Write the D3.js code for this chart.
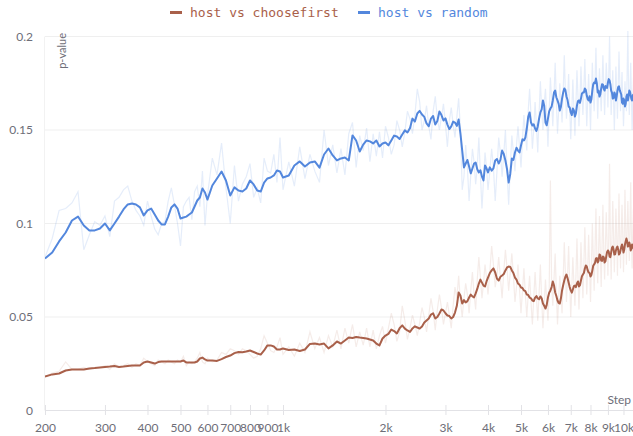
<!DOCTYPE html>
<html><head><meta charset="utf-8">
<script src="https://cdn.jsdelivr.net/npm/d3@7"></script>
<style>
html,body{margin:0;padding:0;background:#fff;}
svg{display:block;}
</style></head>
<body>
<svg id="chart" width="633" height="436"></svg>
<script>
const steps = [200,210,220,230,240,250,260,270,280,290,300,310,320,330,340,350,360,370,380,390,400,410,420,430,440,450,460,470,480,490,500,510,520,530,540,550,560,570,580,590,600,
620,640,660,680,700,720,740,760,780,800,820,840,860,880,900,920,940,960,980,1000,
1040,1080,1120,1160,1200,1240,1280,1320,1360,1400,1440,1480,1520,1560,1600,1640,1680,1720,1760,1800,1840,1880,1920,1960,2000,
2080,2160,2240,2320,2400,2480,2560,2640,2720,2800,2880,2960,3040,3120,3200,3280,3360,3440,3520,3600,3680,3760,3840,3920,4000,
4100,4200,4300,4400,4500,4600,4700,4800,4900,5000,5100,5200,5300,5400,5500,5600,5700,5800,5900,6000,
6100,6200,6300,6400,6500,6600,6700,6800,6900,7000,7100,7200,7300,7400,7500,7600,7700,7800,7900,8000,
8100,8200,8300,8400,8500,8600,8700,8800,8900,9000,9100,9200,9300,9400,9500,9600,9700,9800,9900,10000,
10100,10200,10300,10400,10500,10600,10700];

const randomSmooth = [0.0813,0.0845,0.0904,0.0952,0.1016,0.1037,0.0989,0.0963,0.0963,0.0973,
0.1000,0.0963,0.1000,0.1037,0.1075,0.1102,0.1107,0.1102,0.1086,0.1043,
0.1070,0.1080,0.1048,0.1016,0.0995,0.0995,0.1037,0.1086,0.1102,0.1080,
0.1027,0.1032,0.1037,0.1048,0.1059,0.1091,0.1123,0.1139,0.1187,0.1166,0.1128,
0.1203,0.1241,0.1278,0.1230,0.1150,0.1193,0.1176,0.1171,0.1187,0.1230,0.1209,0.1176,0.1171,0.1219,0.1241,0.1246,0.1257,0.1283,0.1278,0.1246,
0.1257,0.1310,0.1332,0.1305,0.1326,0.1332,0.1299,0.1369,0.1401,0.1364,0.1337,0.1348,0.1353,0.1337,0.1471,0.1444,0.1385,0.1422,0.1444,0.1439,0.1428,0.1444,0.1412,0.1428,0.1433,
0.1444,0.1465,0.1476,0.1487,0.1561,0.1588,0.1583,0.1535,0.1561,0.1529,0.1599,0.1551,0.1529,0.1519,0.1540,0.1556,0.1390,0.1321,0.1305,0.1294,0.1326,0.1273,0.1251,0.1310,0.1273,
0.1283,0.1337,0.1321,0.1390,0.1337,0.1219,0.1348,0.1380,0.1390,0.1417,
0.1444,0.1508,0.1594,0.1524,0.1508,0.1519,0.1594,0.1658,0.1540,0.1561,
0.1615,0.1658,0.1711,0.1658,0.1604,0.1668,0.1722,0.1679,0.1626,0.1594,
0.1615,0.1572,0.1631,0.1658,0.1668,0.1701,0.1722,0.1684,0.1658,0.1647,
0.1711,0.1754,0.1775,0.1701,0.1679,0.1722,0.1743,0.1711,0.1733,0.1754,
0.1765,0.1711,0.1668,0.1701,0.1658,0.1711,0.1733,0.1701,0.1647,0.1668,
0.1626,0.1679,0.1658,0.1711,0.1684,0.1658,0.1690];

const randomRaw = [0.082,0.092,0.107,0.108,0.111,0.117,0.086,0.094,0.101,0.099,
0.104,0.093,0.112,0.114,0.118,0.120,0.112,0.107,0.104,0.099,
0.112,0.104,0.097,0.094,0.100,0.101,0.112,0.119,0.110,0.100,
0.088,0.109,0.112,0.114,0.102,0.117,0.120,0.109,0.128,0.099,0.115,
0.135,0.126,0.143,0.119,0.100,0.131,0.112,0.121,0.125,0.132,0.114,0.119,0.111,0.135,0.128,0.127,0.137,0.122,0.146,0.118,
0.133,0.120,0.141,0.124,0.137,0.128,0.122,0.150,0.131,0.142,0.127,0.140,0.126,0.148,0.154,0.130,0.147,0.139,0.151,0.133,0.148,0.136,0.149,0.135,0.152,
0.137,0.155,0.141,0.160,0.148,0.172,0.150,0.163,0.145,0.168,0.150,0.164,0.141,0.162,0.146,0.167,0.118,0.142,0.112,0.140,0.121,0.146,0.108,0.138,0.118,
0.140,0.112,0.146,0.125,0.150,0.110,0.147,0.128,0.152,0.130,
0.158,0.139,0.172,0.140,0.165,0.138,0.176,0.150,0.172,0.141,
0.178,0.152,0.186,0.148,0.175,0.154,0.190,0.156,0.180,0.145,
0.177,0.147,0.182,0.152,0.184,0.158,0.188,0.152,0.180,0.150,
0.186,0.160,0.194,0.156,0.183,0.160,0.190,0.158,0.186,0.162,
0.200,0.158,0.182,0.150,0.184,0.156,0.192,0.160,0.181,0.152,
0.176,0.160,0.203,0.158,0.186,0.150,0.178];

const chooseSmooth = [0.0182,0.0193,0.0198,0.0214,0.0219,0.0219,0.0219,0.0225,0.0227,0.0230,
0.0233,0.0235,0.0238,0.0233,0.0235,0.0238,0.0241,0.0241,0.0241,0.0257,
0.0262,0.0257,0.0251,0.0259,0.0262,0.0262,0.0262,0.0262,0.0262,0.0262,
0.0262,0.0267,0.0257,0.0257,0.0257,0.0257,0.0262,0.0278,0.0283,0.0273,0.0267,
0.0267,0.0265,0.0275,0.0286,0.0294,0.0307,0.0313,0.0312,0.0316,0.0321,0.0313,0.0305,0.0299,0.0321,0.0348,0.0348,0.0342,0.0326,0.0326,0.0332,
0.0324,0.0326,0.0318,0.0326,0.0356,0.0358,0.0353,0.0358,0.0332,0.0348,0.0369,0.0358,0.0374,0.0390,0.0388,0.0393,0.0390,0.0388,0.0385,0.0380,0.0374,0.0358,0.0348,0.0385,0.0401,
0.0433,0.0412,0.0455,0.0428,0.0439,0.0444,0.0449,0.0481,0.0513,0.0492,0.0519,0.0535,0.0508,0.0492,0.0524,0.0631,0.0572,0.0578,0.0604,0.0610,0.0626,0.0679,0.0684,0.0663,0.0711,
0.0749,0.0738,0.0695,0.0722,0.0749,0.0770,0.0749,0.0711,0.0679,0.0658,
0.0642,0.0620,0.0604,0.0588,0.0604,0.0599,0.0610,0.0572,0.0545,0.0604,
0.0642,0.0690,0.0631,0.0588,0.0572,0.0642,0.0695,0.0727,0.0684,0.0642,
0.0647,0.0668,0.0679,0.0663,0.0695,0.0727,0.0759,0.0770,0.0738,0.0717,
0.0749,0.0781,0.0813,0.0791,0.0834,0.0802,0.0824,0.0791,0.0824,0.0856,
0.0824,0.0845,0.0877,0.0834,0.0856,0.0877,0.0834,0.0856,0.0888,0.0845,
0.0888,0.0920,0.0877,0.0898,0.0856,0.0888,0.0866];

const chooseRaw = [0.018,0.020,0.021,0.026,0.022,0.022,0.023,0.022,0.023,0.023,
0.024,0.022,0.025,0.023,0.024,0.025,0.023,0.025,0.024,0.028,
0.026,0.025,0.024,0.027,0.026,0.025,0.027,0.026,0.025,0.027,
0.026,0.029,0.024,0.026,0.025,0.026,0.028,0.031,0.026,0.025,0.028,
0.026,0.027,0.031,0.030,0.033,0.032,0.030,0.033,0.032,0.030,0.028,0.029,0.033,0.040,0.036,0.032,0.031,0.034,0.039,0.030,
0.034,0.029,0.036,0.031,0.042,0.033,0.039,0.031,0.040,0.034,0.043,0.033,0.044,0.036,0.046,0.034,0.042,0.035,0.044,0.034,0.043,0.033,0.040,0.045,0.036,
0.052,0.037,0.056,0.038,0.051,0.040,0.055,0.042,0.060,0.043,0.062,0.046,0.058,0.044,0.066,0.072,0.050,0.068,0.052,0.074,0.054,0.082,0.060,0.078,0.062,
0.088,0.066,0.082,0.060,0.086,0.064,0.084,0.058,0.078,0.052,
0.076,0.050,0.072,0.046,0.074,0.048,0.078,0.044,0.070,0.048,
0.123,0.056,0.084,0.046,0.072,0.052,0.090,0.058,0.088,0.050,
0.082,0.056,0.092,0.054,0.090,0.060,0.098,0.062,0.094,0.058,
0.100,0.064,0.108,0.068,0.104,0.066,0.110,0.070,0.106,0.072,
0.132,0.070,0.112,0.074,0.108,0.072,0.116,0.076,0.110,0.074,
0.118,0.078,0.112,0.080,0.122,0.076,0.108];

// extra logged steps in the dense (late) part of the run
const midSteps = [2040,2120,2200,2280,2360,2440,2520,2600,2680,2760,2840,2920,3000,3080,3160,3240,3320,3400,3480,3560,3640,3720,3800,3880,3960,
4050,4150,4250,4350,4450,4550,4650,4750,4850,4950,5050,5150,5250,5350,5450,5550,5650,5750,5850,5950,
6050,6150,6250,6350,6450,6550,6650,6750,6850,6950,7050,7150,7250,7350,7450,7550,7650,7750,7850,7950,
8050,8150,8250,8350,8450,8550,8650,8750,8850,8950,9050,9150,9250,9350,9450,9550,9650,9750,9850,9950,
10050,10150,10250,10350,10450,10550,10650];

const randomSmoothMid = [0.1418,0.1470,0.1452,0.1498,0.1510,0.1545,0.1602,0.1570,0.1520,0.1575,0.1548,0.1580,0.1562,0.1505,0.1545,0.1522,0.1480,0.1300,0.1340,0.1268,0.1320,0.1290,0.1285,0.1230,0.1295,
0.1300,0.1295,0.1345,0.1340,0.1372,0.1290,0.1265,0.1340,0.1405,0.1380,0.1450,0.1460,0.1570,0.1540,0.1530,0.1495,0.1560,0.1610,0.1630,0.1525,
0.1600,0.1625,0.1700,0.1675,0.1640,0.1625,0.1700,0.1715,0.1660,0.1620,0.1580,0.1605,0.1590,0.1655,0.1645,0.1695,0.1700,0.1715,0.1665,0.1680,
0.1665,0.1745,0.1750,0.1750,0.1710,0.1690,0.1745,0.1720,0.1735,0.1725,0.1772,0.1745,0.1700,0.1670,0.1690,0.1680,0.1730,0.1712,0.1690,0.1640,
0.1660,0.1640,0.1690,0.1680,0.1705,0.1665,0.1685];

const randomRawMid = [0.146,0.142,0.150,0.149,0.156,0.158,0.165,0.155,0.152,0.160,0.156,0.157,0.153,0.155,0.153,0.157,0.150,0.125,0.130,0.126,0.133,0.130,0.126,0.123,0.130,
0.128,0.130,0.128,0.138,0.137,0.128,0.130,0.138,0.142,0.141,0.145,0.148,0.160,0.158,0.150,0.152,0.158,0.162,0.164,0.158,
0.160,0.166,0.168,0.166,0.160,0.164,0.170,0.170,0.166,0.162,0.160,0.161,0.164,0.168,0.166,0.170,0.172,0.170,0.166,0.166,
0.168,0.172,0.176,0.174,0.170,0.171,0.174,0.174,0.172,0.176,0.178,0.175,0.170,0.166,0.167,0.170,0.174,0.176,0.170,0.166,
0.164,0.168,0.180,0.172,0.170,0.168,0.164];

const chooseSmoothMid = [0.0410,0.0425,0.0440,0.0438,0.0420,0.0450,0.0438,0.0470,0.0492,0.0520,0.0500,0.0540,0.0520,0.0505,0.0500,0.0560,0.0615,0.0590,0.0585,0.0620,0.0605,0.0650,0.0700,0.0668,0.0690,
0.0735,0.0760,0.0705,0.0715,0.0730,0.0765,0.0768,0.0735,0.0700,0.0672,0.0655,0.0638,0.0618,0.0600,0.0585,0.0612,0.0595,0.0600,0.0560,0.0565,
0.0630,0.0660,0.0670,0.0612,0.0575,0.0600,0.0670,0.0715,0.0708,0.0660,0.0630,0.0665,0.0660,0.0690,0.0670,0.0718,0.0735,0.0775,0.0750,0.0735,
0.0725,0.0775,0.0790,0.0815,0.0800,0.0830,0.0800,0.0820,0.0798,0.0848,0.0850,0.0820,0.0870,0.0862,0.0835,0.0870,0.0860,0.0840,0.0875,0.0870,
0.0860,0.0905,0.0905,0.0880,0.0885,0.0865,0.0885];

const chooseRawMid = [0.044,0.046,0.042,0.048,0.044,0.046,0.047,0.050,0.051,0.053,0.054,0.055,0.052,0.051,0.056,0.060,0.058,0.060,0.062,0.064,0.062,0.070,0.071,0.068,0.071,
0.074,0.078,0.072,0.071,0.074,0.076,0.074,0.072,0.066,0.065,0.064,0.062,0.062,0.058,0.060,0.061,0.062,0.060,0.057,0.058,
0.064,0.068,0.070,0.064,0.060,0.062,0.070,0.074,0.072,0.068,0.066,0.068,0.072,0.072,0.070,0.076,0.078,0.080,0.076,0.076,
0.078,0.082,0.086,0.084,0.086,0.084,0.088,0.086,0.088,0.090,0.092,0.090,0.092,0.094,0.090,0.094,0.094,0.092,0.096,0.094,
0.092,0.098,0.096,0.095,0.098,0.094,0.096];

const seriesNames = ["host vs choosefirst", "host vs random"];
const xTickValues = [200,300,400,500,600,700,800,900,1000,2000,3000,4000,5000,6000,7000,8000,9000,10000];
const xTickLabels = ["200","300","400","500","600","700","800","900","1k","2k","3k","4k","5k","6k","7k","8k","9k","10k"];
const yTickValues = [0,0.05,0.1,0.15,0.2];
const yTickLabels = ["0","0.05","0.1","0.15","0.2"];

const colors = {choose:"#a9604a", random:"#5387dd"};
const svg = d3.select("#chart");
const x = d3.scaleLog().domain([200,10700]).range([45,633.5]);
const y = d3.scaleLinear().domain([0,0.2]).range([410.5,36.5]);
const font = "'Source Sans Pro', Lato, 'Open Sans', sans-serif";

// grid
svg.append("g").selectAll("line").data(yTickValues.slice(1)).join("line")
  .attr("x1",45).attr("x2",633).attr("y1",d=>y(d)).attr("y2",d=>y(d))
  .attr("stroke","#efefef").attr("stroke-width",1);
svg.append("line").attr("x1",44.5).attr("x2",44.5).attr("y1",y(0.2)).attr("y2",y(0))
  .attr("stroke","#f2f2f2");

// y labels
svg.append("g").selectAll("text").data(yTickValues).join("text")
  .attr("x",33).attr("y",d=>y(d)+4).attr("text-anchor","end")
  .attr("font-family",font).attr("font-size",12).attr("fill","#6e6e78")
  .text((d,i)=>yTickLabels[i]);

// x axis
const xAxis = d3.axisBottom(x).tickValues(xTickValues).tickFormat((d,i)=>xTickLabels[i]).tickSize(10).tickPadding(8);
const gx = svg.append("g").attr("transform","translate(0,405)").call(xAxis);
gx.select(".domain").attr("d","M45,5.5H633").attr("stroke","#e2e2e6");
gx.selectAll(".tick line").attr("stroke","#e2e2e6");
gx.selectAll(".tick text").attr("font-family",font).attr("font-size",12).attr("fill","#6e6e78");

svg.append("text").attr("x",631).attr("y",404).attr("text-anchor","end")
  .attr("font-family",font).attr("font-size",12).attr("fill","#6e6e78").text("Step");
svg.append("text").attr("transform","translate(66,33) rotate(-90)").attr("text-anchor","end")
  .attr("font-family",font).attr("font-size",11).attr("fill","#6e6e78").text("p-value");

// lines
svg.append("defs").append("clipPath").attr("id","clip").append("rect")
  .attr("x",45).attr("y",20).attr("width",588).attr("height",400);
const plot = svg.append("g").attr("clip-path","url(#clip)");
const line = d3.line().x(d=>x(d[0])).y(d=>y(d[1]));
const mk = (vals, midVals) => steps.map((s,i)=>[s,vals[i]])
  .concat(midSteps.map((s,i)=>[s,midVals[i]]))
  .sort((a,b)=>a[0]-b[0]);

plot.append("path").datum(mk(randomRaw, randomRawMid)).attr("d",line).attr("fill","none")
  .attr("stroke",colors.random).attr("stroke-opacity",0.15).attr("stroke-width",1.2);
plot.append("path").datum(mk(chooseRaw, chooseRawMid)).attr("d",line).attr("fill","none")
  .attr("stroke",colors.choose).attr("stroke-opacity",0.12).attr("stroke-width",1.2);
plot.append("path").datum(mk(chooseSmooth, chooseSmoothMid)).attr("d",line).attr("fill","none")
  .attr("stroke",colors.choose).attr("stroke-width",2).attr("stroke-linejoin","round");
plot.append("path").datum(mk(randomSmooth, randomSmoothMid)).attr("d",line).attr("fill","none")
  .attr("stroke",colors.random).attr("stroke-width",2).attr("stroke-linejoin","round");

// legend
const legend = [{name:seriesNames[0],c:colors.choose,x:170},{name:seriesNames[1],c:colors.random,x:358}];
const lg = svg.append("g").selectAll("g").data(legend).join("g");
lg.append("line").attr("x1",d=>d.x).attr("x2",d=>d.x+12).attr("y1",12.5).attr("y2",12.5)
  .attr("stroke",d=>d.c).attr("stroke-width",3);
lg.append("text").attr("x",d=>d.x+20).attr("y",17).attr("font-family","'DejaVu Sans Mono', monospace")
  .attr("font-size",13).attr("fill",d=>d.c).text(d=>d.name);
</script>
</body></html>
